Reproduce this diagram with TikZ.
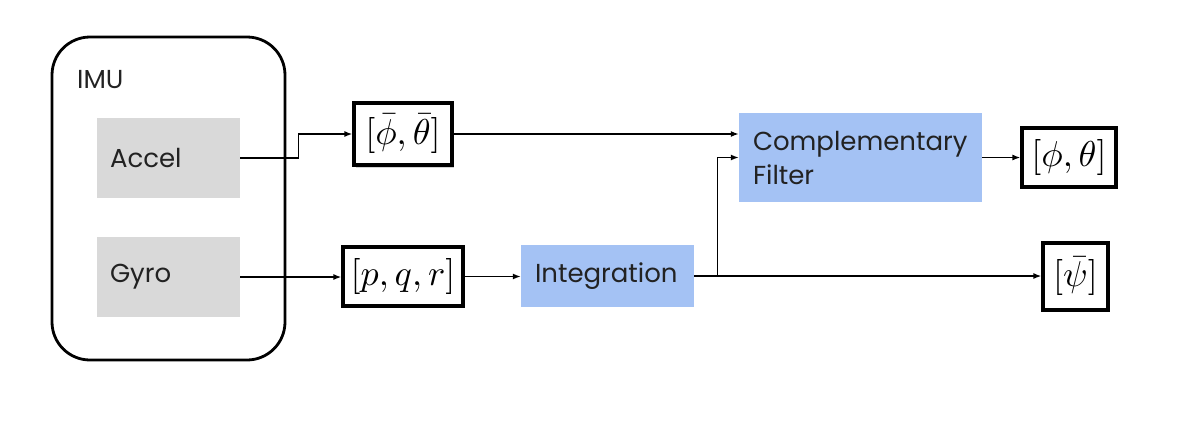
\documentclass[tikz,border=0pt]{standalone}
\usepackage{graphicx}
\usepackage{fontspec}
\setmainfont{Poppins}
\usetikzlibrary{arrows.meta,shadows,calc}
\definecolor{boxgray}{HTML}{D9D9D9}
\definecolor{boxblue}{HTML}{A4C2F4}
\definecolor{txt}{HTML}{222222}
\begin{document}
\begin{tikzpicture}[x=1pt,y=-1pt,
  lbl/.style={font=\fontsize{26}{34}\selectfont, text=txt, align=left, anchor=center, inner ysep=0pt},
  graybox/.style={lbl, fill=boxgray, draw=none, minimum width=143pt, minimum height=80pt, inner xsep=13pt, text width=117pt},
  bluebox/.style={lbl, fill=boxblue, draw=none, inner xsep=14pt},
  mathbox/.style={draw=black, line width=3.2pt, fill=white, inner sep=0pt, font=\fontsize{10}{12}\selectfont},
  arr/.style={line width=1.4pt, draw=black, -{Latex[length=8pt,width=6pt]}}
]
\useasboundingbox (0,0) rectangle (1200,440);

% IMU container
\node[draw=black, line width=2.8pt, rounded corners=38pt, minimum width=233pt, minimum height=323pt, inner sep=0pt] (imu) at (168.5,198.5) {};
\node[lbl, anchor=west, inner xsep=0pt] (imulbl) at (77,80) {IMU};

% sensors
\node[graybox] (accel) at (168.5,158) {Accel};
\node[graybox] (gyro) at (168.5,277) {Gyro};

% math boxes
\node[mathbox, minimum width=98pt, minimum height=62pt, drop shadow={shadow xshift=2pt, shadow yshift=-3pt, opacity=0.35}] (phibar) at (403,134) {\scalebox{3.6}{$[\bar{\phi},\bar{\theta}]$}};
\node[mathbox, minimum width=120pt, minimum height=59pt] (pqr) at (403,276.5) {\scalebox{3.6}{$[p,q,r]$}};
\node[mathbox, minimum width=94pt, minimum height=59pt] (phitheta) at (1069,157.5) {\scalebox{3.6}{$[\phi,\theta]$}};
\node[mathbox, minimum width=65pt, minimum height=67pt] (psibar) at (1075.5,276.5) {\scalebox{3.6}{$[\bar{\psi}]$}};

% processing blocks
\node[bluebox, minimum width=173pt, minimum height=62pt, text width=145pt] (integ) at (607.5,276) {Integration};
\node[bluebox, minimum width=243pt, minimum height=89pt, text width=215pt] (cf) at (860.5,157.5) {Complementary\\Filter};

% connectors
\draw[arr] (accel.east) -- ++(58,0) |- (phibar.west);
\draw[arr] (phibar.east) -- (phibar.east -| cf.west);
\draw[arr] (gyro.east) -- (gyro.east -| pqr.west);
\draw[arr] (pqr.east) -- (pqr.east -| integ.west);
\draw[arr] (integ.east) -- (integ.east -| psibar.west);
\draw[arr] ([xshift=23pt]integ.east) |- (cf.west);
\draw[arr] (cf.east) -- (phitheta.west);
\end{tikzpicture}
\end{document}
